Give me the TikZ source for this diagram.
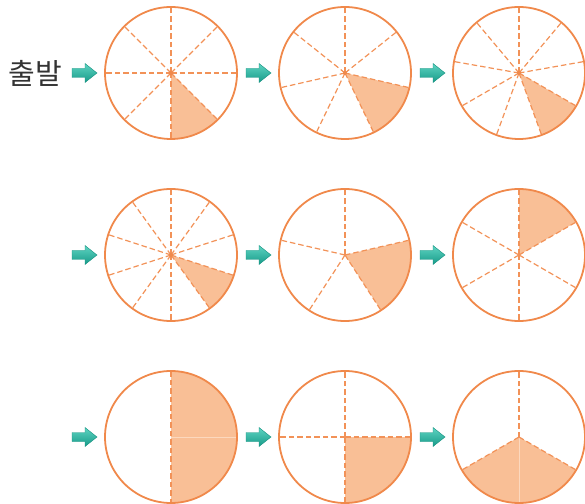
\documentclass[tikz,border=0pt]{standalone}
\usepackage{fontspec}
\newfontfamily\krfont{Noto Sans CJK KR}
\definecolor{lineor}{HTML}{F0894B}
\definecolor{dashor}{HTML}{F29258}
\definecolor{fillor}{HTML}{F9BF96}
\definecolor{seam}{HTML}{FCD8BE}
\definecolor{textc}{HTML}{333333}
\definecolor{tealtop}{HTML}{5ED4C1}
\definecolor{tealmid}{HTML}{25B5A0}
\definecolor{tealbot}{HTML}{179A89}
\definecolor{tealedge}{HTML}{14907F}
\tikzset{
  dashln/.style={draw=dashor, line width=1.2pt, dash pattern=on 5.5pt off 3pt},
  wheelc/.style={circle, draw=lineor, line width=1.8pt, minimum size=132pt, inner sep=0pt},
  ctrdot/.style={circle, fill=lineor, minimum size=4pt, inner sep=0pt},
  tealarrow/.pic={
    \shade[top color=tealtop, middle color=tealmid, bottom color=tealbot, draw=tealedge, line width=0.4pt]
      (0,-4.5) -- (13,-4.5) -- (13,-9.5) -- (25,0) -- (13,9.5) -- (13,4.5) -- (0,4.5) -- cycle;
  }
}
% #1 name, #2 cx, #3 cy, #4 angle list, #5 shade start, #6 shade end
\newcommand\wheeldraw[6]{%
  \begin{scope}[shift={(#2,#3)}]
    \fill[fillor] (0,0) -- (#5:66) arc[start angle=#5, end angle=#6, radius=66] -- cycle;
    \foreach \a in {#4} \draw[dashln] (0,0) -- (\a:66);
    \node[wheelc] (#1) at (0,0) {};
  \end{scope}}
\begin{document}
\begin{tikzpicture}[x=1pt,y=1pt]
\useasboundingbox (0,0) rectangle (585,503);
% text
\node[text=textc, font=\krfont\fontsize{29}{32}\selectfont, inner sep=0pt] (start) at (35,430) {출발};
% row 1
\pic at (72,430) {tealarrow};
\wheeldraw{w1}{171}{430}{0,45,90,135,180,225,270,315}{-90}{-45}
\node[ctrdot] (d1) at (w1.center) {};
\pic at (246,430) {tealarrow};
\wheeldraw{w2}{345}{430}{90,38.571,-12.857,-64.286,-115.714,-167.143,141.429}{-64.286}{-12.857}
\node[ctrdot] (d2) at (w2.center) {};
\pic at (420,430) {tealarrow};
\wheeldraw{w3}{519}{430}{90,50,10,-30,-70,-110,-150,170,130}{-70}{-30}
\node[ctrdot] (d3) at (w3.center) {};
% row 2
\pic at (72,248) {tealarrow};
\wheeldraw{w4}{171}{248}{90,54,18,-18,-54,-90,-126,-162,162,126}{-54}{-18}
\node[ctrdot] (d4) at (w4.center) {};
\pic at (246,248) {tealarrow};
\wheeldraw{w5}{345}{248}{90,13,-57,-123,167}{-57}{13}
\pic at (420,248) {tealarrow};
\wheeldraw{w6}{519}{248}{90,30,-30,-90,-150,150}{30}{90}
% row 3
\pic at (72,66) {tealarrow};
\begin{scope}[shift={(171,66)}]
  \fill[fillor] (0,0) -- (-90:66) arc[start angle=-90, end angle=90, radius=66] -- cycle;
  \draw[seam, line width=0.7pt] (0,0) -- (0:65);
  \draw[dashln] (90:66) -- (-90:66);
  \node[wheelc] (w7) at (0,0) {};
\end{scope}
\pic at (246,66) {tealarrow};
\wheeldraw{w8}{345}{66}{90,0,-90,180}{-90}{0}
\pic at (420,66) {tealarrow};
\begin{scope}[shift={(519,66)}]
  \fill[fillor] (0,0) -- (-150:66) arc[start angle=-150, end angle=-30, radius=66] -- cycle;
  \draw[seam, line width=0.7pt] (0,0) -- (-90:65);
  \foreach \a in {90,-30,-150} \draw[dashln] (0,0) -- (\a:66);
  \node[wheelc] (w9) at (0,0) {};
\end{scope}
\end{tikzpicture}
\end{document}
